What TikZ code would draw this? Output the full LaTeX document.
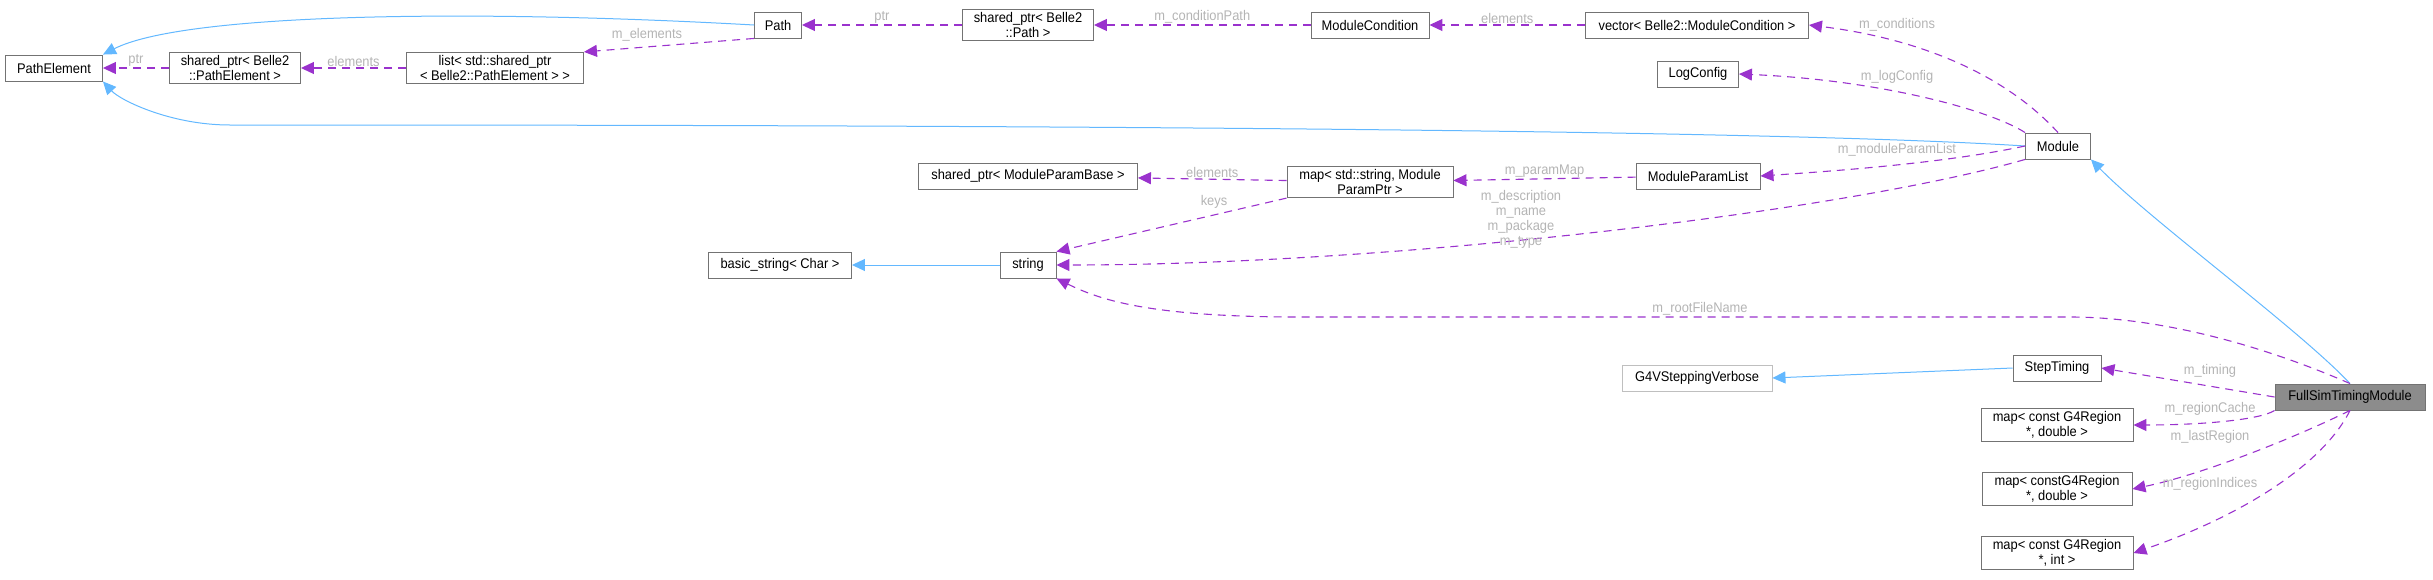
\documentclass[tikz,border=0pt]{standalone}
\usepackage{fontspec}
\setmainfont{Liberation Sans}[FakeStretch=0.92]
\usetikzlibrary{arrows.meta}
\definecolor{inh}{HTML}{63B8FF}
\definecolor{use}{HTML}{9A32CD}
\definecolor{lbl}{HTML}{B4B4B4}
\begin{document}
\begin{tikzpicture}[x=1pt,y=-1pt,
  every node/.style={font=\fontsize{14}{15}\selectfont},
  box/.style={draw=black!55,line width=0.9pt,fill=white,inner sep=3pt,align=center,minimum height=26pt},
  inh/.style={draw=inh,line width=1pt,-{Triangle[length=13pt,width=12pt]}},
  use/.style={draw=use,line width=1.1pt,dash pattern=on 8pt off 6pt,-{Triangle[length=13pt,width=12pt]}},
  lb/.style={text=lbl,inner sep=1pt,align=center}]
\useasboundingbox (0,0) rectangle (2433,579);
\node[box,minimum width=97pt] (pe) at (54,68) {PathElement};
\node[box,minimum width=131pt] (spe) at (235,68) {shared\_ptr< Belle2\\::PathElement >};
\node[box,minimum width=177pt] (lst) at (495,68) {list< std::shared\_ptr\\< Belle2::PathElement > >};
\node[box,minimum width=47pt] (path) at (778,25) {Path};
\node[box,minimum width=131pt] (spp) at (1028,25) {shared\_ptr< Belle2\\::Path >};
\node[box,minimum width=118pt] (mc) at (1370,25) {ModuleCondition};
\node[box,minimum width=223pt] (vec) at (1697,25) {vector< Belle2::ModuleCondition >};
\node[box,minimum width=81pt] (log) at (1698,74) {LogConfig};
\node[box,minimum width=65pt] (mod) at (2058,146) {Module};
\node[box,minimum width=124pt] (mpl) at (1698,176) {ModuleParamList};
\node[box,minimum width=166pt] (map) at (1370,182) {map< std::string, Module\\ParamPtr >};
\node[box,minimum width=219pt] (spb) at (1028,176) {shared\_ptr< ModuleParamBase >};
\node[box,minimum width=56pt] (str) at (1028,265) {string};
\node[box,minimum width=143pt] (bs) at (780,265) {basic\_string< Char >};
\node[box,minimum width=150pt,fill=black!45] (fs) at (2350,397) {FullSimTimingModule};
\node[box,minimum width=88pt] (st) at (2057,368) {StepTiming};
\node[box,draw=black!25,minimum width=150pt] (g4) at (1697,378) {G4VSteppingVerbose};
\node[box,minimum width=152pt] (rc) at (2057,425) {map< const G4Region\\*, double >};
\node[box,minimum width=150pt] (lr) at (2057,489) {map< constG4Region\\*, double >};
\node[box,minimum width=152pt] (ri) at (2057,553) {map< const G4Region\\*, int >};
% inheritance
\draw[inh] (path.west) .. controls (450,8) and (180,15) .. (pe.north east);
\draw[inh] (mod.west) .. controls (1700,125) and (600,125) .. (230,125) .. controls (170,125) and (120,100) .. (pe.south east);
\draw[inh] (str.west) -- (bs.east);
\draw[inh] (st.west) -- (g4.east);
\draw[inh] (fs.north) .. controls (2300,330) and (2150,220) .. (mod.south east);
% usage
\draw[use] (spe) -- node[lb,above]{ptr} (pe);
\draw[use] (lst) -- node[lb,above]{elements} (spe);
\draw[use] (path.south west) -- (lst.north east);
\node[lb] at (647,35) {m\_elements};
\draw[use] (spp) -- node[lb,above]{ptr} (path);
\draw[use] (mc) -- node[lb,above]{m\_conditionPath} (spp);
\draw[use] (vec) -- node[lb,above]{elements} (mc);
\draw[use] (mod.north) .. controls (2010,80) and (1930,40) .. (vec.east);
\node[lb] at (1897,25) {m\_conditions};
\draw[use] (mod.north west) .. controls (1990,110) and (1880,80) .. (log.east);
\node[lb] at (1897,77) {m\_logConfig};
\draw[use] (mod.west) .. controls (1950,162) and (1850,170) .. (mpl.east);
\node[lb] at (1897,150) {m\_moduleParamList};
\draw[use] (mpl) -- node[lb,above]{m\_paramMap} (map);
\draw[use] (map) -- node[lb,above]{elements} (spb);
\draw[use] (map.south west) -- (str.north east);
\node[lb] at (1214,202) {keys};
\draw[use] (mod.south west) .. controls (1850,210) and (1400,265) .. (str.east);
\node[lb] at (1521,219) {m\_description\\m\_name\\m\_package\\m\_type};
\draw[use] (fs.north) .. controls (2250,340) and (2150,317) .. (2070,317) -- (1300,317) .. controls (1150,317) and (1100,300) .. (str.south east);
\node[lb] at (1700,309) {m\_rootFileName};
\draw[use] (fs.west) -- (st.east);
\node[lb] at (2210,371) {m\_timing};
\draw[use] (fs.south west) .. controls (2260,420) and (2200,425) .. (rc.east);
\node[lb] at (2210,409) {m\_regionCache};
\draw[use] (fs.south) .. controls (2290,440) and (2200,475) .. (lr.east);
\node[lb] at (2210,437) {m\_lastRegion};
\draw[use] (fs.south) .. controls (2320,470) and (2230,520) .. (ri.east);
\node[lb] at (2210,484) {m\_regionIndices};
\end{tikzpicture}
\end{document}
